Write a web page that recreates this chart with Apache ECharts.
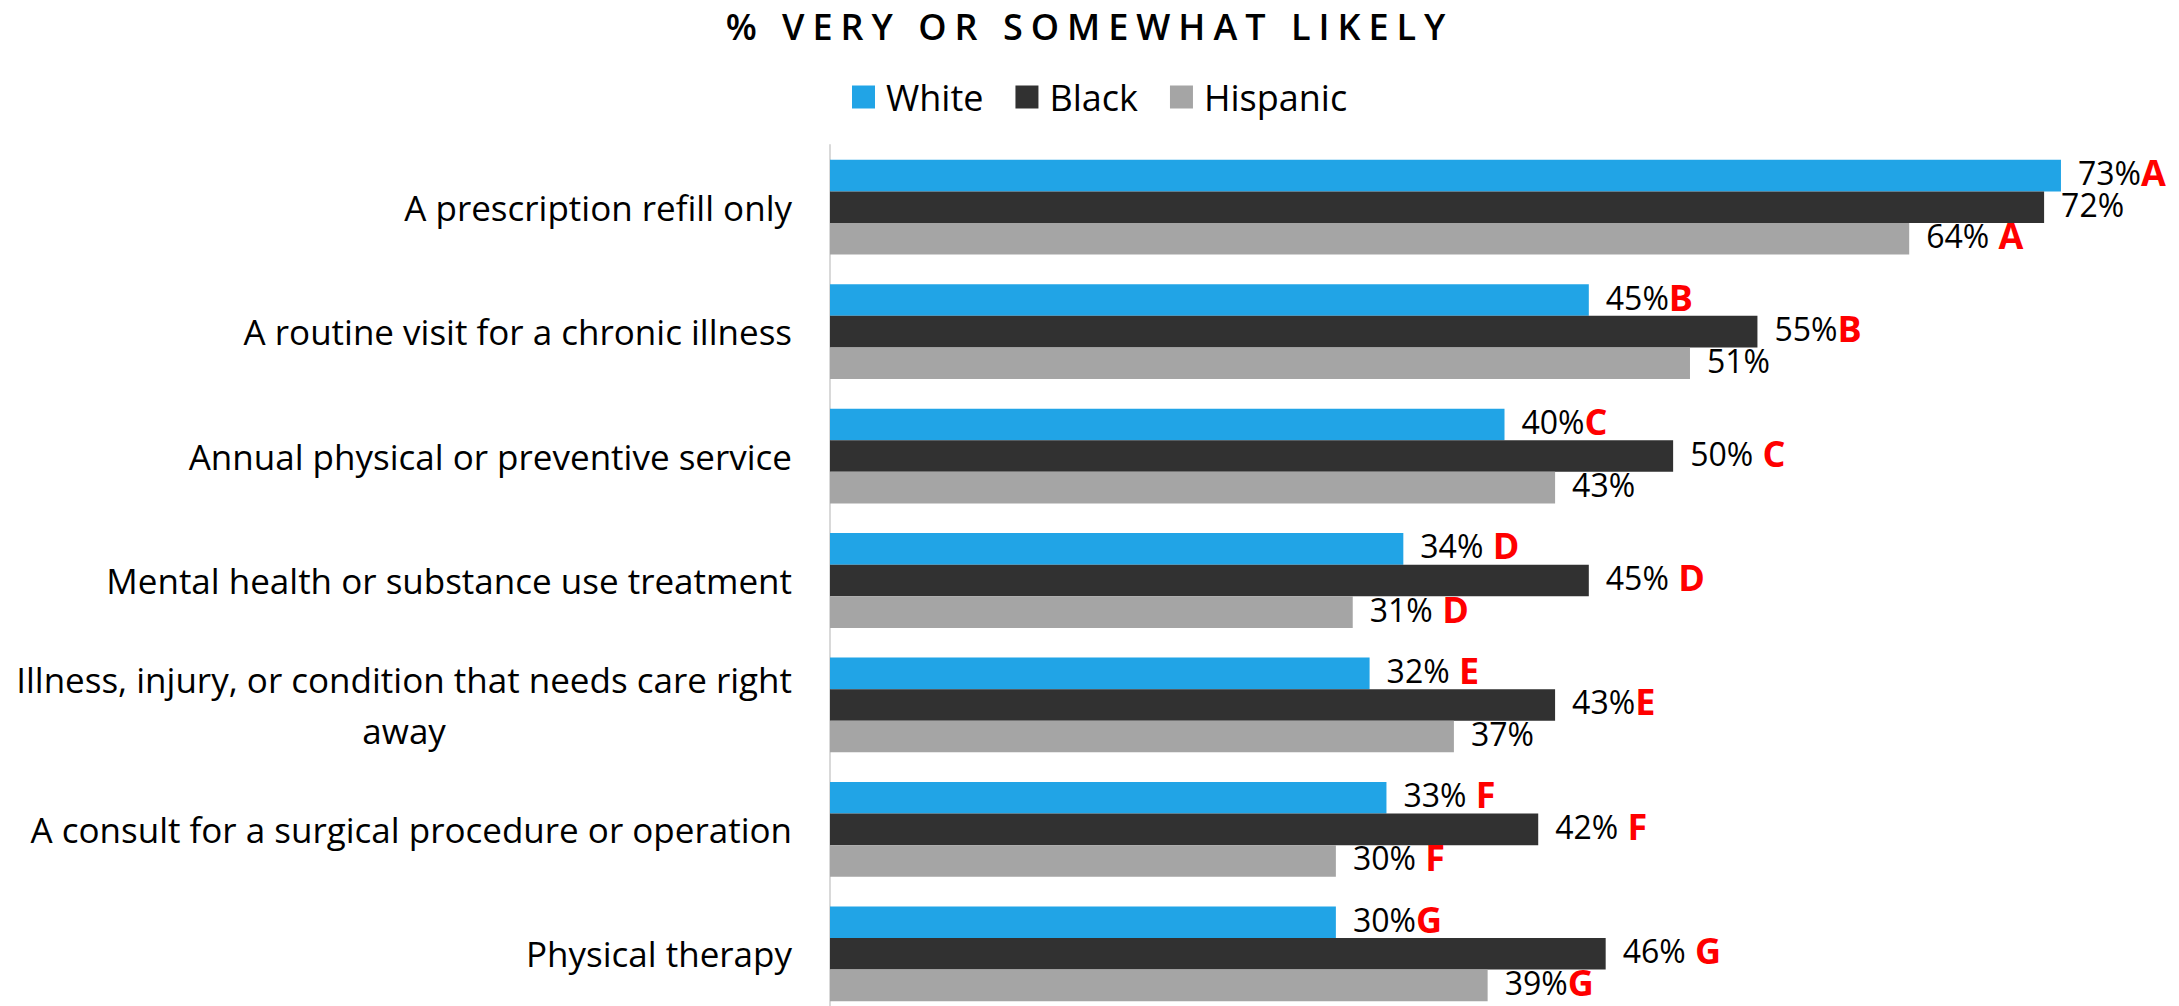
<!DOCTYPE html>
<html>
<head>
<meta charset="utf-8">
<script src="https://cdn.jsdelivr.net/npm/echarts@6/dist/echarts.min.js"></script>
<style>
  html, body { margin: 0; padding: 0; background: #ffffff; }
  #chart { width: 2179px; height: 1006px; }
</style>
</head>
<body>
<div id="chart"></div>
<script>
// Share of respondents "very or somewhat likely" to use telehealth, by visit type
const categories = [
  'A prescription refill only',
  'A routine visit for a chronic illness',
  'Annual physical or preventive service',
  'Mental health or substance use treatment',
  'Illness, injury, or condition that needs care right away',
  'A consult for a surgical procedure or operation',
  'Physical therapy'
];
const seriesNames = ['White', 'Black', 'Hispanic'];
const white    = [73, 45, 40, 34, 32, 33, 30];
const black    = [72, 55, 50, 45, 43, 42, 46];
const hispanic = [64, 51, 43, 31, 37, 30, 39];

// significance letters shown after each value
const whiteMarks    = ['A', 'B', 'C', ' D', ' E', ' F', 'G'];
const blackMarks    = ['', 'B', ' C', ' D', 'E', ' F', ' G'];
const hispanicMarks = [' A', '', '', ' D', '', ' F', 'G'];

const colors = ['#21A4E6', '#313131', '#A5A5A5'];
const FONT = "'Open Sans', 'Noto Sans', sans-serif";
const TITLE = '% VERY OR SOMEWHAT LIKELY';

// break long category names into lines of at most maxChars characters
function wrap(text, maxChars) {
  const words = text.split(' ');
  const lines = [];
  let line = '';
  words.forEach(w => {
    const next = line ? line + ' ' + w : w;
    if (next.length > maxChars && line) { lines.push(line); line = w; }
    else { line = next; }
  });
  if (line) lines.push(line);
  return lines.join('\n');
}

function barSeries(name, values, marks, color) {
  return {
    name: name,
    type: 'bar',
    data: values,
    barWidth: 31.6,
    barGap: '0%',
    itemStyle: { color: color },
    label: {
      show: true,
      position: 'right',
      distance: 17,
      offset: [0, -3],
      formatter: p => '{v|' + p.value + '%}' + (marks[p.dataIndex] ? '{s|' + marks[p.dataIndex] + '}' : ''),
      rich: {
        v: { fontFamily: FONT, fontSize: 32, color: '#000000', lineHeight: 30 },
        s: { fontFamily: FONT, fontSize: 36, fontWeight: 'bold', color: '#FF0000', lineHeight: 30 }
      }
    }
  };
}

const chart = echarts.init(document.getElementById('chart'), null, { renderer: 'svg' });
chart.setOption({
  animation: false,
  backgroundColor: '#ffffff',
  title: {
    text: TITLE,
    left: 'center',
    top: 8,
    padding: 0,
    textStyle: { fontFamily: FONT, fontSize: 36, fontWeight: 600, color: '#000000' }
  },
  legend: {
    data: seriesNames,
    left: 852,
    top: 79,
    padding: 0,
    itemWidth: 23,
    itemHeight: 23,
    itemGap: 32,
    icon: 'rect',
    textStyle: { fontFamily: FONT, fontSize: 36, color: '#000000', padding: [0, 0, 0, 6] }
  },
  grid: { left: 830, top: 145, width: 1349, height: 871, outerBoundsMode: 'none', containLabel: false },
  xAxis: {
    type: 'value',
    min: 0,
    max: 80,
    show: false
  },
  yAxis: {
    type: 'category',
    data: categories,
    inverse: true,
    axisTick: { show: false },
    axisLine: { show: true, lineStyle: { color: '#D9D9D9', width: 2 } },
    axisLabel: {
      margin: 38,
      formatter: v => '{c|' + wrap(v, 52) + '}',
      rich: {
        c: { fontFamily: FONT, fontSize: 35, color: '#000000', align: 'center', lineHeight: 51 }
      }
    }
  },
  series: [
    barSeries(seriesNames[0], white, whiteMarks, colors[0]),
    barSeries(seriesNames[1], black, blackMarks, colors[1]),
    barSeries(seriesNames[2], hispanic, hispanicMarks, colors[2])
  ]
});

// spaced-out lettering for the heading
function spaceTitle() {
  document.querySelectorAll('#chart svg text').forEach(t => {
    if (t.textContent === TITLE) t.setAttribute('letter-spacing', '8px');
  });
}
spaceTitle();
chart.on('finished', spaceTitle);
</script>
</body>
</html>
